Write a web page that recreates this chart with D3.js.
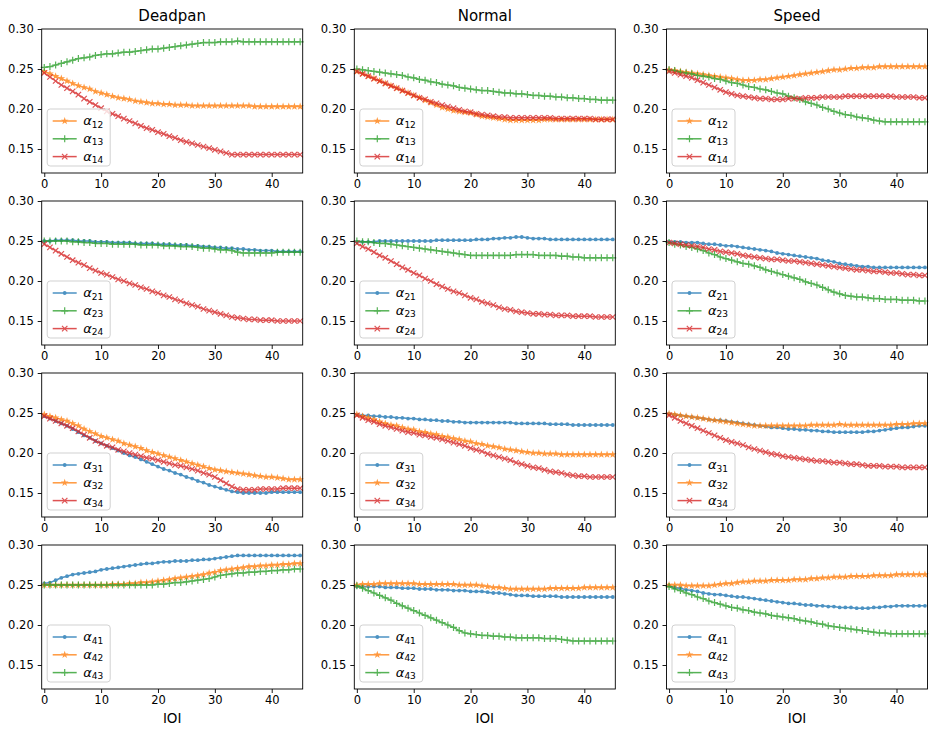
<!DOCTYPE html>
<html>
<head>
<meta charset="utf-8">
<script src="https://cdnjs.cloudflare.com/ajax/libs/d3/7.8.5/d3.min.js"></script>
<style>
  body { margin: 0; background: #fff; }
  svg { font-family: "DejaVu Sans", sans-serif; }
</style>
</head>
<body>
<div id="chart"></div>
<script>
// conditions (columns) and tick labels
var conditions = ['Deadpan', 'Normal', 'Speed'];
var xTicks = [0, 10, 20, 30, 40];
var yTicks = [0.15, 0.20, 0.25, 0.30];

// ---- row 1 : alpha_1j ----
var deadpan_a12 = [0.247,0.244,0.241,0.238,0.235,0.232,0.229,0.227,0.225,0.222,0.220,0.218,0.216,0.214,0.213,0.212,0.210,0.209,0.208,0.207,0.207,0.206,0.206,0.205,0.205,0.205,0.204,0.204,0.204,0.204,0.204,0.204,0.204,0.204,0.204,0.204,0.204,0.203,0.203,0.203,0.203,0.203,0.203,0.203,0.203,0.203];
var deadpan_a13 = [0.252,0.253,0.255,0.257,0.259,0.261,0.263,0.264,0.265,0.267,0.268,0.269,0.269,0.270,0.271,0.271,0.272,0.273,0.274,0.275,0.275,0.276,0.277,0.278,0.279,0.280,0.281,0.282,0.283,0.283,0.283,0.284,0.284,0.284,0.285,0.284,0.284,0.284,0.284,0.284,0.284,0.284,0.284,0.284,0.284,0.284];
var deadpan_a14 = [0.245,0.240,0.235,0.230,0.226,0.222,0.218,0.213,0.209,0.205,0.201,0.197,0.194,0.191,0.188,0.185,0.182,0.179,0.176,0.174,0.171,0.169,0.166,0.164,0.161,0.159,0.157,0.155,0.153,0.151,0.149,0.147,0.145,0.143,0.143,0.143,0.143,0.143,0.143,0.143,0.143,0.143,0.143,0.143,0.143,0.143];
var normal_a12 = [0.247,0.244,0.241,0.238,0.235,0.232,0.229,0.226,0.223,0.220,0.217,0.214,0.211,0.208,0.205,0.202,0.200,0.198,0.197,0.196,0.195,0.193,0.191,0.190,0.189,0.188,0.187,0.186,0.186,0.186,0.186,0.186,0.186,0.187,0.187,0.187,0.187,0.187,0.187,0.187,0.187,0.187,0.187,0.187,0.187,0.187];
var normal_a13 = [0.250,0.249,0.248,0.247,0.246,0.245,0.244,0.243,0.242,0.240,0.239,0.237,0.236,0.234,0.233,0.231,0.230,0.229,0.227,0.226,0.225,0.224,0.223,0.223,0.222,0.221,0.220,0.220,0.219,0.219,0.218,0.217,0.217,0.216,0.216,0.215,0.215,0.214,0.214,0.213,0.213,0.212,0.212,0.211,0.211,0.211];
var normal_a14 = [0.247,0.244,0.241,0.238,0.235,0.232,0.229,0.226,0.223,0.220,0.217,0.214,0.212,0.209,0.207,0.205,0.203,0.201,0.199,0.197,0.196,0.194,0.193,0.192,0.191,0.190,0.190,0.189,0.189,0.189,0.189,0.189,0.189,0.189,0.189,0.188,0.188,0.188,0.188,0.188,0.188,0.188,0.187,0.187,0.187,0.187];
var speed_a12 = [0.249,0.248,0.247,0.246,0.245,0.244,0.243,0.242,0.241,0.240,0.239,0.238,0.237,0.236,0.236,0.236,0.237,0.237,0.238,0.239,0.240,0.241,0.242,0.243,0.244,0.245,0.246,0.247,0.248,0.249,0.249,0.250,0.251,0.251,0.252,0.252,0.252,0.253,0.253,0.253,0.253,0.253,0.253,0.253,0.253,0.253];
var speed_a13 = [0.249,0.248,0.246,0.245,0.244,0.242,0.241,0.240,0.238,0.237,0.235,0.233,0.232,0.230,0.228,0.227,0.225,0.224,0.222,0.220,0.219,0.216,0.214,0.212,0.209,0.207,0.205,0.202,0.200,0.197,0.195,0.193,0.192,0.190,0.189,0.188,0.186,0.185,0.184,0.184,0.184,0.184,0.184,0.184,0.184,0.184];
var speed_a14 = [0.247,0.245,0.243,0.241,0.239,0.236,0.233,0.230,0.227,0.224,0.221,0.219,0.217,0.216,0.215,0.214,0.213,0.213,0.212,0.212,0.212,0.213,0.213,0.213,0.214,0.214,0.214,0.215,0.215,0.215,0.215,0.216,0.216,0.216,0.216,0.216,0.216,0.216,0.216,0.216,0.215,0.215,0.215,0.215,0.214,0.214];

// ---- row 2 : alpha_2j ----
var deadpan_a21 = [0.250,0.250,0.251,0.251,0.251,0.251,0.250,0.250,0.250,0.249,0.249,0.249,0.248,0.248,0.248,0.248,0.247,0.247,0.247,0.247,0.246,0.246,0.246,0.245,0.245,0.245,0.244,0.244,0.243,0.243,0.242,0.242,0.241,0.241,0.240,0.240,0.239,0.239,0.238,0.238,0.238,0.237,0.237,0.237,0.237,0.237];
var deadpan_a23 = [0.250,0.250,0.250,0.250,0.250,0.249,0.249,0.248,0.248,0.247,0.247,0.247,0.246,0.246,0.246,0.246,0.246,0.245,0.245,0.245,0.245,0.244,0.244,0.244,0.243,0.243,0.243,0.242,0.241,0.241,0.240,0.239,0.239,0.238,0.236,0.235,0.235,0.235,0.235,0.235,0.235,0.236,0.236,0.236,0.236,0.236];
var deadpan_a24 = [0.246,0.242,0.238,0.234,0.230,0.226,0.223,0.220,0.216,0.213,0.210,0.208,0.205,0.202,0.200,0.197,0.195,0.192,0.190,0.187,0.185,0.182,0.180,0.177,0.175,0.172,0.170,0.168,0.165,0.163,0.161,0.159,0.157,0.155,0.154,0.153,0.152,0.152,0.151,0.151,0.151,0.150,0.150,0.150,0.150,0.150];
var normal_a21 = [0.249,0.249,0.249,0.249,0.250,0.250,0.250,0.250,0.250,0.250,0.250,0.250,0.250,0.250,0.251,0.251,0.251,0.251,0.251,0.251,0.251,0.252,0.252,0.252,0.253,0.253,0.254,0.254,0.255,0.255,0.254,0.253,0.253,0.253,0.252,0.252,0.252,0.252,0.252,0.252,0.252,0.252,0.252,0.252,0.252,0.252];
var normal_a23 = [0.250,0.249,0.249,0.248,0.247,0.247,0.246,0.245,0.244,0.243,0.242,0.241,0.240,0.239,0.238,0.237,0.236,0.235,0.234,0.233,0.232,0.232,0.232,0.232,0.232,0.232,0.232,0.232,0.233,0.233,0.233,0.233,0.232,0.232,0.232,0.232,0.231,0.231,0.230,0.230,0.229,0.229,0.229,0.229,0.229,0.229];
var normal_a24 = [0.247,0.243,0.240,0.236,0.232,0.229,0.225,0.221,0.217,0.214,0.210,0.207,0.203,0.200,0.196,0.193,0.190,0.187,0.185,0.182,0.179,0.177,0.174,0.172,0.170,0.167,0.165,0.164,0.162,0.161,0.160,0.159,0.159,0.158,0.158,0.157,0.157,0.157,0.156,0.156,0.156,0.156,0.155,0.155,0.155,0.155];
var speed_a21 = [0.249,0.249,0.249,0.248,0.248,0.248,0.247,0.246,0.246,0.245,0.244,0.244,0.243,0.242,0.241,0.240,0.239,0.238,0.237,0.235,0.234,0.233,0.232,0.231,0.230,0.229,0.228,0.226,0.225,0.224,0.222,0.221,0.220,0.219,0.218,0.218,0.217,0.217,0.217,0.217,0.217,0.217,0.217,0.217,0.217,0.217];
var speed_a23 = [0.248,0.246,0.245,0.243,0.242,0.240,0.238,0.235,0.233,0.230,0.228,0.226,0.224,0.222,0.221,0.219,0.217,0.214,0.212,0.210,0.208,0.206,0.204,0.202,0.199,0.197,0.195,0.192,0.189,0.186,0.184,0.182,0.181,0.180,0.180,0.179,0.178,0.178,0.177,0.177,0.177,0.176,0.176,0.176,0.175,0.175];
var speed_a24 = [0.248,0.247,0.246,0.245,0.244,0.243,0.242,0.240,0.239,0.237,0.236,0.235,0.234,0.232,0.231,0.230,0.229,0.228,0.227,0.227,0.226,0.225,0.225,0.224,0.223,0.222,0.221,0.220,0.219,0.218,0.217,0.216,0.215,0.214,0.214,0.213,0.212,0.212,0.211,0.210,0.210,0.209,0.208,0.208,0.207,0.207];

// ---- row 3 : alpha_3j ----
var deadpan_a31 = [0.246,0.243,0.240,0.237,0.234,0.230,0.226,0.222,0.219,0.215,0.212,0.209,0.206,0.203,0.200,0.197,0.195,0.192,0.189,0.186,0.183,0.180,0.178,0.175,0.173,0.170,0.168,0.165,0.163,0.160,0.158,0.156,0.154,0.152,0.151,0.150,0.150,0.150,0.150,0.150,0.151,0.151,0.151,0.151,0.151,0.151];
var deadpan_a32 = [0.248,0.246,0.244,0.242,0.240,0.237,0.234,0.230,0.227,0.224,0.221,0.219,0.217,0.215,0.212,0.210,0.208,0.206,0.203,0.201,0.199,0.197,0.195,0.193,0.191,0.189,0.187,0.185,0.183,0.181,0.179,0.178,0.177,0.176,0.175,0.174,0.173,0.172,0.171,0.170,0.170,0.169,0.168,0.167,0.167,0.167];
var deadpan_a34 = [0.246,0.243,0.240,0.237,0.234,0.231,0.227,0.223,0.219,0.215,0.212,0.209,0.207,0.204,0.202,0.200,0.198,0.196,0.194,0.193,0.191,0.189,0.187,0.185,0.184,0.182,0.180,0.178,0.175,0.173,0.170,0.166,0.162,0.158,0.155,0.154,0.154,0.154,0.155,0.155,0.155,0.155,0.156,0.156,0.156,0.156];
var normal_a31 = [0.248,0.247,0.247,0.246,0.246,0.245,0.245,0.244,0.244,0.243,0.243,0.242,0.242,0.241,0.241,0.240,0.240,0.239,0.239,0.238,0.238,0.238,0.238,0.238,0.238,0.238,0.238,0.238,0.237,0.237,0.237,0.237,0.237,0.237,0.236,0.236,0.236,0.236,0.235,0.235,0.235,0.235,0.235,0.235,0.235,0.235];
var normal_a32 = [0.248,0.246,0.244,0.242,0.239,0.237,0.235,0.234,0.232,0.230,0.229,0.227,0.226,0.224,0.223,0.221,0.220,0.218,0.217,0.215,0.214,0.212,0.211,0.209,0.208,0.207,0.205,0.204,0.203,0.202,0.201,0.200,0.200,0.199,0.199,0.199,0.198,0.198,0.198,0.198,0.198,0.198,0.198,0.198,0.198,0.198];
var normal_a34 = [0.247,0.244,0.241,0.239,0.236,0.234,0.232,0.230,0.228,0.226,0.225,0.223,0.222,0.220,0.219,0.217,0.215,0.213,0.211,0.209,0.206,0.204,0.202,0.199,0.197,0.195,0.193,0.191,0.188,0.186,0.184,0.182,0.181,0.179,0.177,0.176,0.175,0.173,0.172,0.171,0.171,0.170,0.170,0.170,0.170,0.170];
var speed_a31 = [0.249,0.248,0.247,0.246,0.245,0.244,0.243,0.242,0.241,0.241,0.240,0.239,0.238,0.237,0.236,0.235,0.234,0.233,0.232,0.232,0.231,0.230,0.230,0.229,0.229,0.228,0.228,0.227,0.227,0.226,0.226,0.226,0.226,0.226,0.226,0.227,0.227,0.228,0.229,0.230,0.231,0.232,0.232,0.233,0.234,0.234];
var speed_a32 = [0.249,0.248,0.247,0.246,0.245,0.244,0.243,0.242,0.241,0.240,0.239,0.238,0.237,0.236,0.235,0.234,0.234,0.234,0.234,0.234,0.234,0.234,0.234,0.234,0.234,0.235,0.235,0.235,0.235,0.235,0.236,0.235,0.235,0.235,0.235,0.235,0.235,0.235,0.235,0.235,0.236,0.236,0.236,0.237,0.237,0.237];
var speed_a34 = [0.247,0.244,0.240,0.237,0.234,0.231,0.228,0.225,0.222,0.219,0.216,0.214,0.212,0.210,0.207,0.205,0.203,0.201,0.199,0.198,0.196,0.195,0.194,0.193,0.192,0.191,0.190,0.190,0.189,0.188,0.188,0.187,0.186,0.186,0.185,0.184,0.184,0.184,0.183,0.183,0.183,0.182,0.182,0.182,0.182,0.182];

// ---- row 4 : alpha_4j ----
var deadpan_a41 = [0.252,0.253,0.256,0.259,0.261,0.263,0.264,0.265,0.266,0.267,0.269,0.270,0.271,0.272,0.273,0.274,0.275,0.276,0.277,0.277,0.278,0.279,0.279,0.280,0.280,0.280,0.281,0.281,0.282,0.282,0.283,0.284,0.285,0.286,0.287,0.287,0.287,0.287,0.287,0.287,0.287,0.287,0.287,0.287,0.287,0.287];
var deadpan_a42 = [0.250,0.250,0.250,0.250,0.250,0.250,0.250,0.250,0.250,0.250,0.250,0.250,0.251,0.251,0.251,0.252,0.252,0.253,0.253,0.254,0.255,0.256,0.257,0.258,0.259,0.260,0.261,0.262,0.263,0.265,0.266,0.268,0.269,0.270,0.271,0.272,0.273,0.273,0.274,0.274,0.275,0.275,0.276,0.276,0.277,0.277];
var deadpan_a43 = [0.250,0.250,0.250,0.250,0.250,0.250,0.250,0.250,0.250,0.250,0.250,0.250,0.250,0.250,0.250,0.250,0.250,0.250,0.250,0.250,0.251,0.251,0.252,0.253,0.253,0.254,0.255,0.256,0.257,0.258,0.260,0.262,0.263,0.264,0.265,0.265,0.266,0.266,0.267,0.267,0.268,0.268,0.269,0.269,0.270,0.270];
var normal_a41 = [0.248,0.248,0.248,0.248,0.248,0.247,0.247,0.247,0.246,0.246,0.246,0.245,0.245,0.245,0.244,0.244,0.244,0.243,0.243,0.243,0.242,0.242,0.242,0.241,0.240,0.240,0.239,0.238,0.237,0.237,0.237,0.236,0.236,0.236,0.236,0.236,0.235,0.235,0.235,0.235,0.235,0.235,0.235,0.235,0.235,0.235];
var normal_a42 = [0.250,0.251,0.251,0.251,0.252,0.252,0.252,0.252,0.252,0.252,0.252,0.251,0.251,0.251,0.251,0.251,0.251,0.251,0.250,0.250,0.250,0.250,0.249,0.248,0.247,0.247,0.246,0.245,0.245,0.245,0.245,0.245,0.245,0.245,0.246,0.246,0.246,0.246,0.246,0.246,0.247,0.247,0.247,0.247,0.247,0.247];
var normal_a43 = [0.249,0.246,0.243,0.240,0.237,0.234,0.231,0.227,0.224,0.221,0.218,0.215,0.212,0.209,0.206,0.203,0.200,0.197,0.193,0.190,0.189,0.188,0.187,0.187,0.186,0.186,0.185,0.185,0.184,0.184,0.184,0.184,0.184,0.183,0.183,0.183,0.182,0.181,0.180,0.180,0.180,0.180,0.180,0.180,0.180,0.180];
var speed_a41 = [0.249,0.247,0.246,0.244,0.243,0.242,0.240,0.239,0.238,0.238,0.237,0.236,0.235,0.235,0.234,0.233,0.232,0.231,0.230,0.229,0.228,0.227,0.227,0.226,0.225,0.225,0.224,0.224,0.223,0.223,0.222,0.222,0.222,0.221,0.221,0.221,0.222,0.222,0.223,0.223,0.224,0.224,0.224,0.224,0.224,0.224];
var speed_a42 = [0.250,0.250,0.250,0.249,0.249,0.249,0.249,0.249,0.250,0.251,0.252,0.252,0.253,0.254,0.254,0.255,0.255,0.255,0.256,0.256,0.256,0.256,0.257,0.257,0.257,0.258,0.258,0.259,0.259,0.260,0.260,0.260,0.261,0.261,0.261,0.261,0.262,0.262,0.262,0.262,0.263,0.263,0.263,0.263,0.263,0.263];
var speed_a43 = [0.248,0.245,0.243,0.240,0.238,0.235,0.233,0.230,0.228,0.226,0.224,0.222,0.221,0.219,0.218,0.216,0.215,0.214,0.212,0.211,0.210,0.209,0.208,0.206,0.205,0.204,0.202,0.201,0.199,0.198,0.197,0.196,0.195,0.194,0.193,0.192,0.191,0.190,0.190,0.189,0.189,0.189,0.189,0.189,0.189,0.189];

// lookup table: condition -> "ij" -> values
var table = {
  Deadpan: {12: deadpan_a12, 13: deadpan_a13, 14: deadpan_a14, 21: deadpan_a21, 23: deadpan_a23, 24: deadpan_a24,
            31: deadpan_a31, 32: deadpan_a32, 34: deadpan_a34, 41: deadpan_a41, 42: deadpan_a42, 43: deadpan_a43},
  Normal:  {12: normal_a12, 13: normal_a13, 14: normal_a14, 21: normal_a21, 23: normal_a23, 24: normal_a24,
            31: normal_a31, 32: normal_a32, 34: normal_a34, 41: normal_a41, 42: normal_a42, 43: normal_a43},
  Speed:   {12: speed_a12, 13: speed_a13, 14: speed_a14, 21: speed_a21, 23: speed_a23, 24: speed_a24,
            31: speed_a31, 32: speed_a32, 34: speed_a34, 41: speed_a41, 42: speed_a42, 43: speed_a43}
};

var width = 937, height = 736;
var colLeft = [41.7, 354.3, 666.5];
var rowTop = [29, 201, 373, 545];
var pw = 261, ph = 144;

var colors = {1: '#1f77b4', 2: '#ff7f0e', 3: '#2ca02c', 4: '#d62728'};

var x = d3.scaleLinear().domain([-0.45, 45.45]).range([0, pw]);
var y = d3.scaleLinear().domain([0.12, 0.30]).range([ph, 0]);

var svg = d3.select('#chart').append('svg')
    .attr('width', width)
    .attr('height', height);

// draws the marker for series j at (0,0) inside g
function drawMarker(g, j) {
  var c = colors[j];
  if (j === 1) {
    g.append('circle').attr('r', 1.9).attr('fill', c);
  } else if (j === 2) {
    g.append('path').attr('d', d3.symbol().type(d3.symbolStar).size(18)()).attr('fill', c);
  } else if (j === 3) {
    g.append('path').attr('d', 'M-3.5,0H3.5M0,-3.5V3.5').attr('stroke', c).attr('stroke-width', 1.2).attr('fill', 'none');
  } else {
    g.append('path').attr('d', 'M-2.7,-2.7L2.7,2.7M-2.7,2.7L2.7,-2.7').attr('stroke', c).attr('stroke-width', 1.2).attr('fill', 'none');
  }
}

var line = d3.line()
    .x(function(d, i) { return x(i); })
    .y(function(d) { return y(d); });

conditions.forEach(function(cond, ci) {
  for (var r = 0; r < 4; r++) {
    var i = r + 1;
    var g = svg.append('g')
        .attr('transform', 'translate(' + colLeft[ci] + ',' + rowTop[r] + ')');

    var js = [1, 2, 3, 4].filter(function(j) { return j !== i; });

    js.forEach(function(j) {
      var vals = table[cond]['' + i + j];
      var sg = g.append('g').attr('opacity', 0.8);
      sg.append('path')
        .datum(vals)
        .attr('d', line)
        .attr('fill', 'none')
        .attr('stroke', colors[j])
        .attr('stroke-width', 1.5);
      vals.forEach(function(v, k) {
        var mg = sg.append('g').attr('transform', 'translate(' + x(k) + ',' + y(v) + ')');
        drawMarker(mg, j);
      });
    });

    // axes
    var ya = g.append('g')
        .call(d3.axisLeft(y).tickValues(yTicks).tickFormat(d3.format('.2f')).tickSize(4).tickPadding(4));
    var xa = g.append('g')
        .attr('transform', 'translate(0,' + ph + ')')
        .call(d3.axisBottom(x).tickValues(xTicks).tickSize(4).tickPadding(3));
    [ya, xa].forEach(function(a) {
      a.select('.domain').remove();
      a.selectAll('text').attr('font-size', 11.5).attr('font-family', 'DejaVu Sans').attr('fill', '#000');
      a.selectAll('line').attr('stroke', '#000').attr('stroke-width', 0.9);
    });

    g.append('rect')
      .attr('width', pw).attr('height', ph)
      .attr('fill', 'none').attr('stroke', '#000').attr('stroke-width', 0.9);

    // legend
    var lg = g.append('g').attr('transform', 'translate(5.5,' + (ph - 64) + ')');
    lg.append('rect')
      .attr('width', 63).attr('height', 57).attr('rx', 3)
      .attr('fill', '#fff').attr('fill-opacity', 0.8)
      .attr('stroke', '#cccccc').attr('stroke-width', 0.9);
    js.forEach(function(j, k) {
      var ey = 12 + k * 17.8;
      var eg = lg.append('g').attr('transform', 'translate(0,' + ey + ')').attr('opacity', 0.8);
      eg.append('line')
        .attr('x1', 5.5).attr('x2', 29.5)
        .attr('stroke', colors[j]).attr('stroke-width', 1.5);
      var mg = eg.append('g').attr('transform', 'translate(17.5,0)');
      drawMarker(mg, j);
      var t = lg.append('text')
        .attr('x', 36).attr('y', ey + 4)
        .attr('font-size', 13);
      t.append('tspan').attr('font-style', 'italic').text('\u03b1');
      t.append('tspan').attr('font-size', 9).attr('dy', 2.5).text('' + i + j);
    });
  }

  // column title
  svg.append('text')
    .attr('x', colLeft[ci] + pw / 2)
    .attr('y', 21)
    .attr('text-anchor', 'middle')
    .attr('font-size', 15)
    .text(cond);

  // x label
  svg.append('text')
    .attr('x', colLeft[ci] + pw / 2)
    .attr('y', 723)
    .attr('text-anchor', 'middle')
    .attr('font-size', 13.5)
    .text('IOI');
});
</script>
</body>
</html>
